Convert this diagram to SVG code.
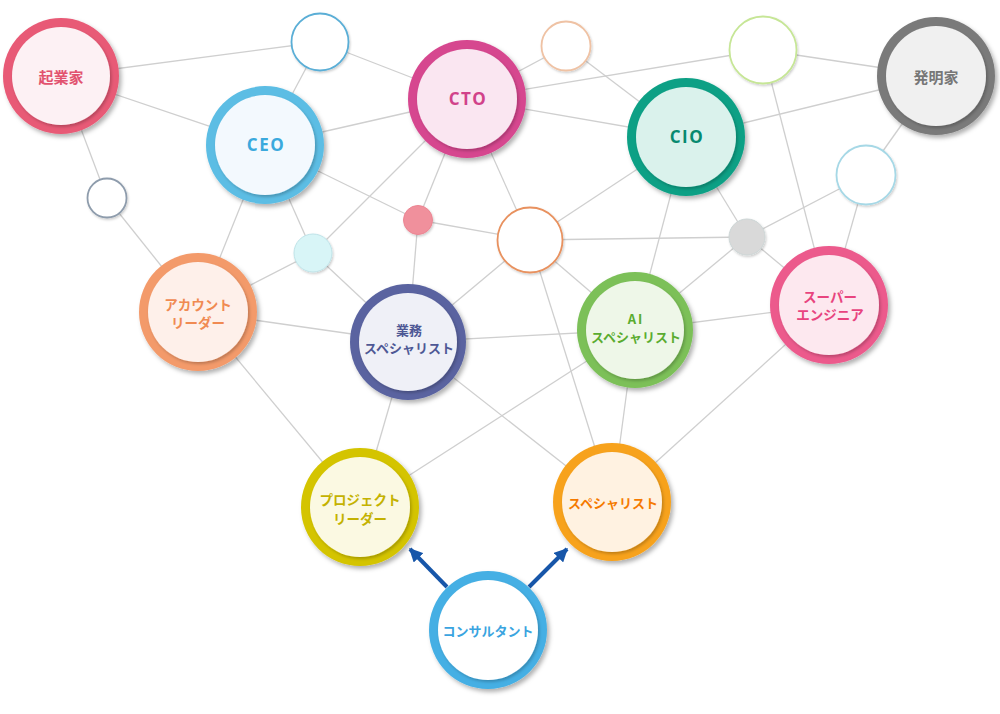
<svg xmlns="http://www.w3.org/2000/svg" width="1000" height="714" viewBox="0 0 1000 714">
<defs>
<filter id="sh" x="-20%" y="-20%" width="140%" height="140%"><feDropShadow dx="2.5" dy="3" stdDeviation="2" flood-color="#000" flood-opacity="0.3"/></filter>
<filter id="sh2" x="-20%" y="-20%" width="140%" height="140%"><feDropShadow dx="1.5" dy="2" stdDeviation="1.5" flood-color="#000" flood-opacity="0.22"/></filter>
<filter id="sh3" x="-30%" y="-30%" width="160%" height="160%"><feDropShadow dx="1" dy="1.5" stdDeviation="1" flood-color="#000" flood-opacity="0.2"/></filter>
<marker id="ah" viewBox="0 0 10 10" refX="9" refY="5" markerWidth="3.6" markerHeight="3.4" orient="auto" markerUnits="strokeWidth"><path d="M0,0 L10,5 L0,10 Z" fill="#1756a9"/></marker>
</defs>
<style>
.ln{stroke:#cfcfcf;stroke-width:1.3;fill:none}
.t{font-family:"Noto Sans CJK JP","Noto Sans",sans-serif;font-weight:bold;text-anchor:middle;dominant-baseline:central}
.en{font-family:"Open Sans","Noto Sans",sans-serif;font-weight:bold;text-anchor:middle;dominant-baseline:central;font-size:17px;letter-spacing:1.5px}
.sm{fill:#fff;stroke-width:1.8}
.arrow{stroke:#1756a9;stroke-width:4;fill:none;marker-end:url(#ah)}
</style>
<rect width="1000" height="714" fill="#fff"/>
<g id="connectors">
<line class="ln" x1="61" y1="76" x2="320" y2="42"/>
<line class="ln" x1="61" y1="76" x2="265" y2="145"/>
<line class="ln" x1="61" y1="76" x2="107" y2="198"/>
<line class="ln" x1="107" y1="198" x2="198" y2="312"/>
<line class="ln" x1="320" y1="42" x2="265" y2="145"/>
<line class="ln" x1="320" y1="42" x2="467" y2="99"/>
<line class="ln" x1="265" y1="145" x2="467" y2="99"/>
<line class="ln" x1="265" y1="145" x2="198" y2="312"/>
<line class="ln" x1="265" y1="145" x2="313" y2="253"/>
<line class="ln" x1="265" y1="145" x2="418" y2="220"/>
<line class="ln" x1="467" y1="99" x2="313" y2="253"/>
<line class="ln" x1="467" y1="99" x2="418" y2="220"/>
<line class="ln" x1="467" y1="99" x2="530" y2="240"/>
<line class="ln" x1="467" y1="99" x2="566" y2="46"/>
<line class="ln" x1="467" y1="99" x2="686" y2="137"/>
<line class="ln" x1="467" y1="99" x2="763" y2="50"/>
<line class="ln" x1="566" y1="46" x2="686" y2="137"/>
<line class="ln" x1="763" y1="50" x2="936" y2="76"/>
<line class="ln" x1="763" y1="50" x2="829" y2="305"/>
<line class="ln" x1="686" y1="137" x2="936" y2="76"/>
<line class="ln" x1="936" y1="76" x2="866" y2="175"/>
<line class="ln" x1="866" y1="175" x2="747" y2="237"/>
<line class="ln" x1="866" y1="175" x2="829" y2="305"/>
<line class="ln" x1="686" y1="137" x2="747" y2="237"/>
<line class="ln" x1="686" y1="137" x2="530" y2="240"/>
<line class="ln" x1="686" y1="137" x2="635" y2="330"/>
<line class="ln" x1="418" y1="220" x2="530" y2="240"/>
<line class="ln" x1="418" y1="220" x2="408" y2="342"/>
<line class="ln" x1="313" y1="253" x2="198" y2="312"/>
<line class="ln" x1="313" y1="253" x2="408" y2="342"/>
<line class="ln" x1="530" y1="240" x2="747" y2="237"/>
<line class="ln" x1="530" y1="240" x2="635" y2="330"/>
<line class="ln" x1="530" y1="240" x2="408" y2="342"/>
<line class="ln" x1="530" y1="240" x2="612" y2="502"/>
<line class="ln" x1="747" y1="237" x2="635" y2="330"/>
<line class="ln" x1="747" y1="237" x2="829" y2="305"/>
<line class="ln" x1="198" y1="312" x2="408" y2="342"/>
<line class="ln" x1="408" y1="342" x2="635" y2="330"/>
<line class="ln" x1="635" y1="330" x2="829" y2="305"/>
<line class="ln" x1="198" y1="312" x2="360" y2="507"/>
<line class="ln" x1="408" y1="342" x2="360" y2="507"/>
<line class="ln" x1="408" y1="342" x2="612" y2="502"/>
<line class="ln" x1="635" y1="330" x2="360" y2="507"/>
<line class="ln" x1="635" y1="330" x2="612" y2="502"/>
<line class="ln" x1="829" y1="305" x2="612" y2="502"/>
<line class="arrow" x1="447" y1="587" x2="410" y2="549"/>
<line class="arrow" x1="529" y1="587" x2="567" y2="549"/>
</g>
<g id="small-nodes">
<circle id="s1" cx="320" cy="42" r="28.5" class="sm" stroke="#5aaed6" filter="url(#sh3)"/>
<circle id="s2" cx="107" cy="198" r="19.5" class="sm" stroke="#8e9cac" stroke-width="1.5" filter="url(#sh3)"/>
<circle id="s3" cx="566" cy="46" r="24.5" class="sm" stroke="#efc2a4" filter="url(#sh3)"/>
<circle id="s4" cx="763" cy="50" r="33.5" class="sm" stroke="#c6e696" filter="url(#sh3)"/>
<circle id="s5" cx="866" cy="175" r="29.5" class="sm" stroke="#a6d8e6" filter="url(#sh3)"/>
<circle id="s6" cx="418" cy="220" r="14.5" fill="#f0909c" stroke="#ec8592" stroke-width="1" filter="url(#sh3)"/>
<circle id="s7" cx="530" cy="240" r="32.5" class="sm" stroke="#e8915e" filter="url(#sh3)"/>
<circle id="s8" cx="747" cy="237" r="18" fill="#d9d9d9" stroke="#cdd6d6" stroke-width="1" filter="url(#sh3)"/>
<circle id="s9" cx="313" cy="253" r="19" fill="#d8f5f7" stroke="#bfe3e8" stroke-width="1" filter="url(#sh3)"/>
</g>
<g id="n-kigyouka">
<circle cx="61" cy="76" r="58" fill="#e85a76" filter="url(#sh)"/>
<circle cx="61" cy="76" r="49" fill="#fdf1f4" filter="url(#sh2)"/>
<text class="t" x="61" y="76" font-size="15" fill="#e2536f">起業家</text>
</g>
<g id="n-ceo">
<circle cx="265" cy="145" r="59" fill="#5cbde4" filter="url(#sh)"/>
<circle cx="265" cy="145" r="50" fill="#f3f9fe" filter="url(#sh2)"/>
<text class="en" x="266" y="144" fill="#3ba9dd">CEO</text>
</g>
<g id="n-cto">
<circle cx="467" cy="99" r="59" fill="#d6478f" filter="url(#sh)"/>
<circle cx="467" cy="99" r="50" fill="#fae6f1" filter="url(#sh2)"/>
<text class="en" x="468" y="98" fill="#d1428a">CTO</text>
</g>
<g id="n-cio">
<circle cx="686" cy="137" r="59" fill="#0aa085" filter="url(#sh)"/>
<circle cx="686" cy="137" r="50" fill="#daf2ec" filter="url(#sh2)"/>
<text class="en" x="687" y="136" fill="#078a70">CIO</text>
</g>
<g id="n-hatsumeika">
<circle cx="936" cy="76" r="59" fill="#7a7a7a" filter="url(#sh)"/>
<circle cx="936" cy="76" r="50" fill="#f0f0f0" filter="url(#sh2)"/>
<text class="t" x="936" y="76" font-size="15" fill="#777">発明家</text>
</g>
<g id="n-account">
<circle cx="198" cy="312" r="59" fill="#f39a6b" filter="url(#sh)"/>
<circle cx="198" cy="312" r="50" fill="#fef0ea" filter="url(#sh2)"/>
<text class="t" font-size="13.5" fill="#f08a52"><tspan x="198" y="303.5">アカウント</tspan><tspan x="198" dy="18.5">リーダー</tspan></text>
</g>
<g id="n-gyomu">
<circle cx="408" cy="342" r="58" fill="#5a64a0" filter="url(#sh)"/>
<circle cx="408" cy="342" r="49" fill="#eff0f7" filter="url(#sh2)"/>
<text class="t" font-size="13" fill="#4e5895"><tspan x="409" y="329">業務</tspan><tspan x="409" dy="18">スペシャリスト</tspan></text>
</g>
<g id="n-ai">
<circle cx="635" cy="330" r="58" fill="#7cc059" filter="url(#sh)"/>
<circle cx="635" cy="330" r="49" fill="#eef7e8" filter="url(#sh2)"/>
<text class="t" font-size="13" fill="#5aac30"><tspan x="636" y="318" letter-spacing="2">AI</tspan><tspan x="636" dy="18">スペシャリスト</tspan></text>
</g>
<g id="n-super">
<circle cx="829" cy="305" r="59" fill="#ec5a8c" filter="url(#sh)"/>
<circle cx="829" cy="305" r="50" fill="#fde8ef" filter="url(#sh2)"/>
<text class="t" font-size="13.5" fill="#e8447e"><tspan x="830" y="295.75">スーパー</tspan><tspan x="830" dy="18.5">エンジニア</tspan></text>
</g>
<g id="n-project">
<circle cx="360" cy="507" r="59" fill="#d4c400" filter="url(#sh)"/>
<circle cx="360" cy="507" r="50" fill="#fbf9e2" filter="url(#sh2)"/>
<text class="t" font-size="13.5" fill="#c4b200"><tspan x="360" y="499.25">プロジェクト</tspan><tspan x="360" dy="18.5">リーダー</tspan></text>
</g>
<g id="n-specialist">
<circle cx="612" cy="502" r="59" fill="#f7a21c" filter="url(#sh)"/>
<circle cx="612" cy="502" r="50" fill="#fff2e1" filter="url(#sh2)"/>
<text class="t" x="613" y="502" font-size="13" fill="#f57a00">スペシャリスト</text>
</g>
<g id="n-consultant">
<circle cx="488" cy="630" r="59" fill="#45afe4" filter="url(#sh)"/>
<circle cx="488" cy="630" r="50" fill="#ffffff" filter="url(#sh2)"/>
<text class="t" x="488" y="630" font-size="13" fill="#3aa4e0">コンサルタント</text>
</g>
</svg>
